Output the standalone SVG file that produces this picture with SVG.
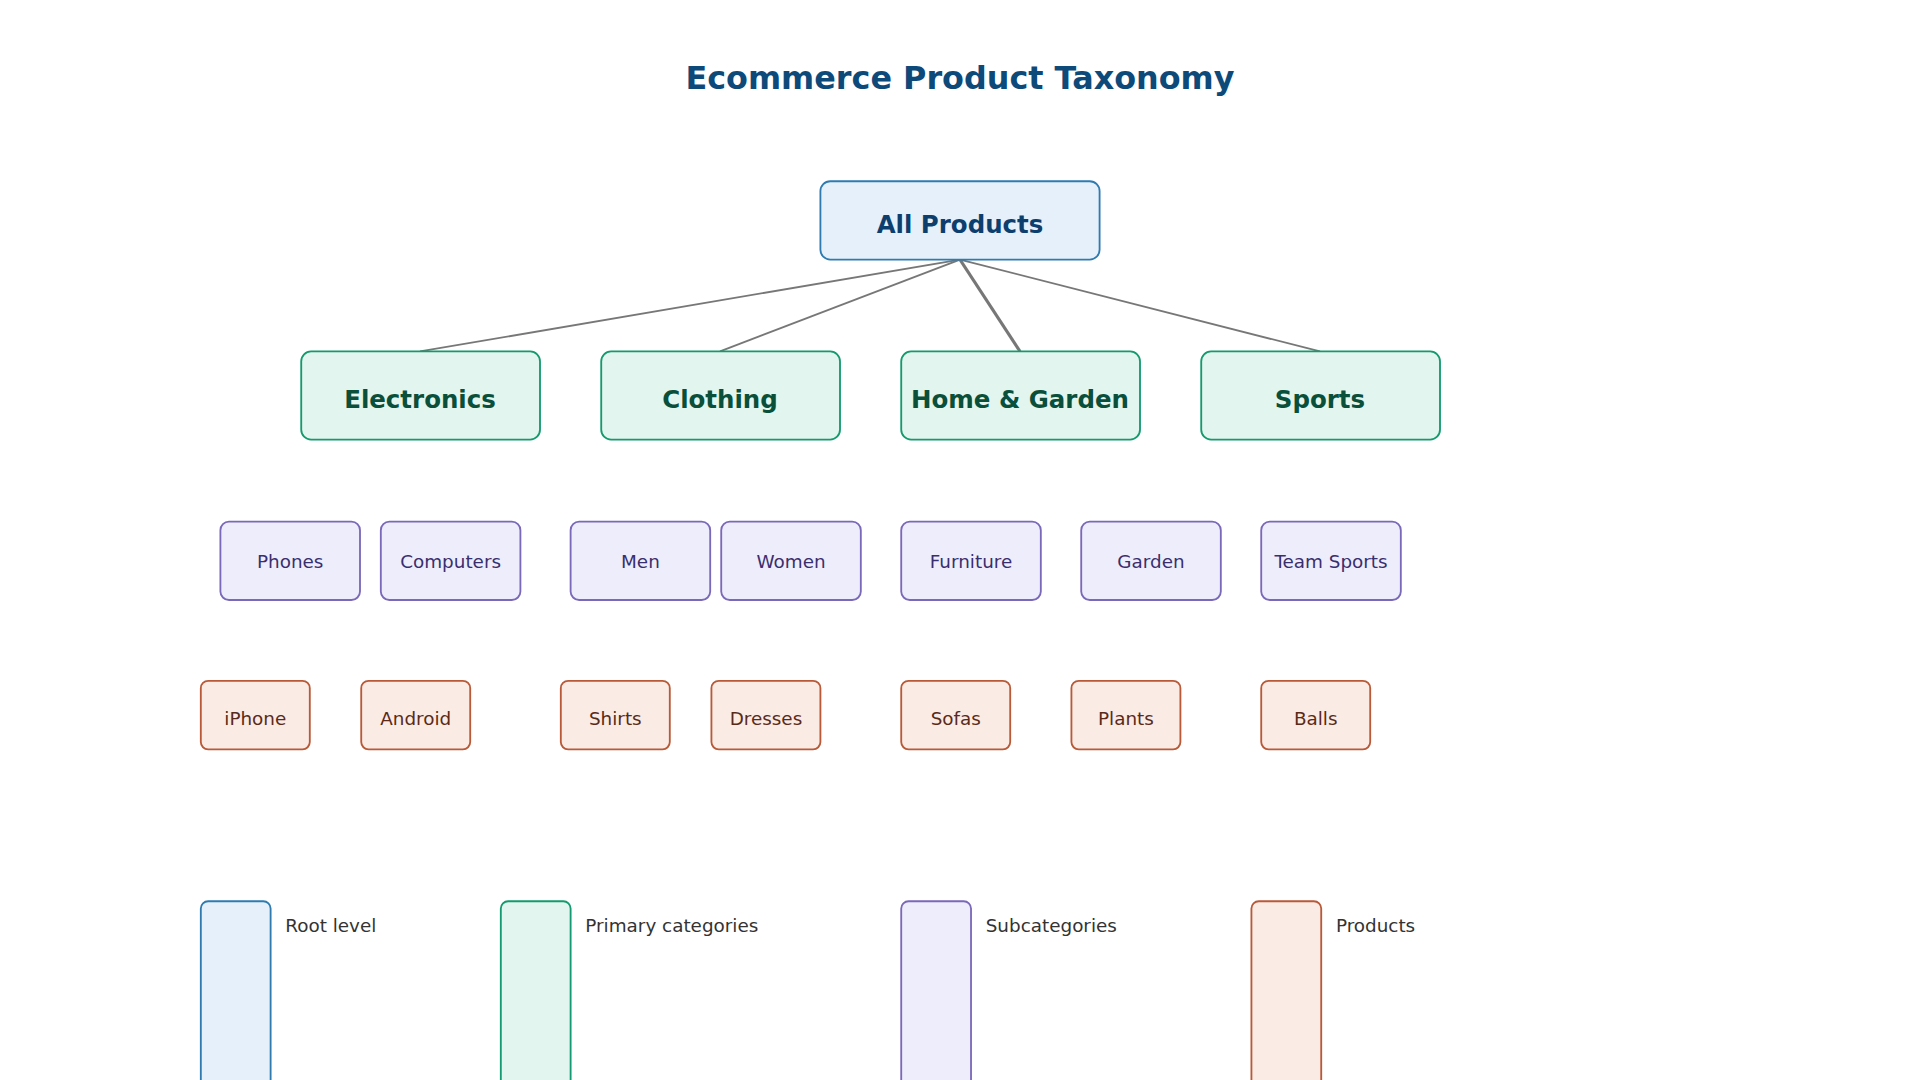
<svg xmlns="http://www.w3.org/2000/svg" width="1920" height="1080" viewBox="0 0 1920 1080">
<style>
text{font-family:"DejaVu Sans","Liberation Sans",sans-serif;text-anchor:middle}
.root rect{fill:#e6f0fb;stroke:#2f7bb0;stroke-width:1.5}
.root text{fill:#0d3f6e;font-size:20px;font-weight:bold}
.pri rect{fill:#e2f5ee;stroke:#139a6e;stroke-width:1.5}
.pri text{fill:#0a4f3a;font-size:20px;font-weight:bold}
.sub rect{fill:#eeedfc;stroke:#7a68b8;stroke-width:1.5}
.sub text{fill:#3a2f6e;font-size:15px}
.prod rect{fill:#fbebe5;stroke:#b85a38;stroke-width:1.5}
.prod text{fill:#5a2a18;font-size:15px}
.leg{fill:#333;font-size:15px;text-anchor:start}
#edges line{stroke:#777;stroke-width:1.5}
</style>
<rect width="1920" height="1080" fill="#fff"/>
<g transform="scale(1.22449)">
<text x="784" y="73" font-size="26" font-weight="bold" fill="#0d4a7a">Ecommerce Product Taxonomy</text>
<g id="edges">
<line x1="784" y1="212" x2="343" y2="287"/>
<line x1="784" y1="212" x2="588" y2="287"/>
<line x1="784" y1="212" x2="833" y2="287" style="stroke-width:2.5"/>
<line x1="784" y1="212" x2="1078" y2="287"/>
</g>
<g id="all-products" class="root"><rect x="670" y="148" width="228" height="64" rx="8"/><text x="784" y="190">All Products</text></g>
<g id="electronics" class="pri"><rect x="246" y="287" width="195" height="72" rx="8"/><text x="343" y="333">Electronics</text></g>
<g id="clothing" class="pri"><rect x="491" y="287" width="195" height="72" rx="8"/><text x="588" y="333">Clothing</text></g>
<g id="home-garden" class="pri"><rect x="736" y="287" width="195" height="72" rx="8"/><text x="833" y="333">Home &amp; Garden</text></g>
<g id="sports" class="pri"><rect x="981" y="287" width="195" height="72" rx="8"/><text x="1078" y="333">Sports</text></g>
<g id="phones" class="sub"><rect x="180" y="426" width="114" height="64" rx="7"/><text x="237" y="464">Phones</text></g>
<g id="computers" class="sub"><rect x="311" y="426" width="114" height="64" rx="7"/><text x="368" y="464">Computers</text></g>
<g id="men" class="sub"><rect x="466" y="426" width="114" height="64" rx="7"/><text x="523" y="464">Men</text></g>
<g id="women" class="sub"><rect x="589" y="426" width="114" height="64" rx="7"/><text x="646" y="464">Women</text></g>
<g id="furniture" class="sub"><rect x="736" y="426" width="114" height="64" rx="7"/><text x="793" y="464">Furniture</text></g>
<g id="garden" class="sub"><rect x="883" y="426" width="114" height="64" rx="7"/><text x="940" y="464">Garden</text></g>
<g id="team-sports" class="sub"><rect x="1030" y="426" width="114" height="64" rx="7"/><text x="1087" y="464">Team Sports</text></g>
<g id="iphone" class="prod"><rect x="164" y="556" width="89" height="56" rx="6"/><text x="208.5" y="592">iPhone</text></g>
<g id="android" class="prod"><rect x="295" y="556" width="89" height="56" rx="6"/><text x="339.5" y="592">Android</text></g>
<g id="shirts" class="prod"><rect x="458" y="556" width="89" height="56" rx="6"/><text x="502.5" y="592">Shirts</text></g>
<g id="dresses" class="prod"><rect x="581" y="556" width="89" height="56" rx="6"/><text x="625.5" y="592">Dresses</text></g>
<g id="sofas" class="prod"><rect x="736" y="556" width="89" height="56" rx="6"/><text x="780.5" y="592">Sofas</text></g>
<g id="plants" class="prod"><rect x="875" y="556" width="89" height="56" rx="6"/><text x="919.5" y="592">Plants</text></g>
<g id="balls" class="prod"><rect x="1030" y="556" width="89" height="56" rx="6"/><text x="1074.5" y="592">Balls</text></g>
<g id="legend">
<g class="root"><rect x="164" y="736" width="57" height="200" rx="6"/></g><text class="leg" x="233" y="761">Root level</text>
<g class="pri"><rect x="409" y="736" width="57" height="200" rx="6"/></g><text class="leg" x="478" y="761">Primary categories</text>
<g class="sub"><rect x="736" y="736" width="57" height="200" rx="6"/></g><text class="leg" x="805" y="761">Subcategories</text>
<g class="prod"><rect x="1022" y="736" width="57" height="200" rx="6"/></g><text class="leg" x="1091" y="761">Products</text>
</g>
</g>
</svg>
